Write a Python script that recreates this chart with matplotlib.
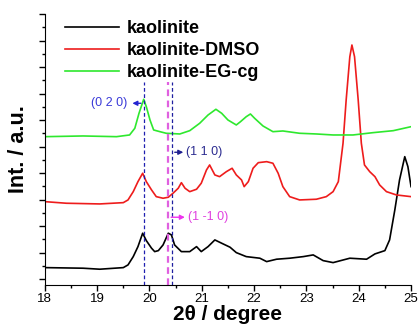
import numpy as np
import matplotlib
matplotlib.use("Agg")
import matplotlib.pyplot as plt

plt.rcParams['font.family'] = ['Liberation Sans', 'DejaVu Sans']

# 2theta / intensity (a.u.)
kao_x = [18.00, 18.73, 19.05, 19.50, 19.59, 19.69, 19.78, 19.87, 19.94, 20.04, 20.10, 20.17,
         20.26, 20.36, 20.42, 20.48, 20.61, 20.77, 20.90, 20.99, 21.12, 21.25, 21.38, 21.54,
         21.66, 21.85, 22.11, 22.24, 22.43, 22.68, 22.94, 23.13, 23.32, 23.51, 23.83, 24.15,
         24.31, 24.50, 24.59, 24.69, 24.78, 24.88, 24.94, 25.00]
kao_y = [17.3, 16.7, 15.7, 17.3, 20.0, 28.3, 38.3, 51.7, 44.3, 36.7, 33.3, 34.3,
         40.0, 51.7, 50.0, 40.0, 33.3, 33.3, 38.3, 33.3, 38.3, 45.0, 41.7, 37.7,
         32.3, 28.3, 26.7, 23.3, 25.7, 26.7, 28.3, 30.0, 24.3, 22.3, 26.7, 25.7,
         31.0, 34.3, 45.0, 75.0, 105.0, 128.3, 118.3, 98.3]

dmso_x = [18.00, 18.41, 19.05, 19.50, 19.59, 19.69, 19.78, 19.87, 19.94, 20.04, 20.13, 20.26,
          20.36, 20.45, 20.55, 20.61, 20.68, 20.77, 20.90, 20.99, 21.09, 21.15, 21.25, 21.34,
          21.47, 21.58, 21.66, 21.76, 21.81, 21.89, 21.98, 22.08, 22.24, 22.36, 22.46, 22.55,
          22.68, 22.87, 23.19, 23.38, 23.51, 23.61, 23.70, 23.76, 23.83, 23.87, 23.92, 23.99,
          24.05, 24.11, 24.21, 24.31, 24.40, 24.53, 24.72, 25.00]
dmso_y = [83.3, 81.7, 81.0, 82.3, 85.0, 93.3, 103.3, 111.7, 103.3, 95.0, 88.3, 86.7,
          87.7, 91.7, 96.7, 102.3, 96.7, 93.3, 95.7, 101.7, 115.0, 120.0, 110.0, 108.3,
          113.3, 116.7, 110.0, 105.0, 98.3, 103.3, 116.7, 122.3, 123.3, 121.7, 111.7, 98.3,
          88.3, 85.0, 85.7, 88.3, 93.3, 103.3, 141.7, 185.0, 228.3, 240.0, 228.3, 185.0,
          141.7, 120.0, 113.3, 108.3, 100.0, 93.3, 90.0, 88.3]

eg_x = [18.00, 18.73, 19.37, 19.62, 19.72, 19.80, 19.89, 19.94, 20.01, 20.08, 20.20, 20.32,
        20.58, 20.77, 20.96, 21.12, 21.27, 21.38, 21.50, 21.66, 21.74, 21.85, 21.93, 22.01,
        22.17, 22.36, 22.55, 22.87, 23.19, 23.51, 23.89, 24.27, 24.66, 25.00]
eg_y = [148.3, 149.0, 148.3, 150.0, 156.7, 171.7, 185.7, 178.3, 165.0, 155.0, 153.3, 151.7,
        151.0, 154.3, 161.7, 170.0, 175.7, 171.7, 165.0, 160.0, 163.3, 168.3, 171.0, 166.7,
        159.0, 153.3, 154.0, 151.7, 151.0, 150.0, 150.0, 152.3, 154.3, 158.3]

labels = ["kaolinite", "kaolinite-DMSO", "kaolinite-EG-cg"]
colors = ["black", "#ee1c1c", "#2ee82e"]

fig = plt.figure(figsize=(4.19, 3.34), dpi=100)
ax = fig.add_axes([0.107, 0.147, 0.874, 0.811])

ax.plot(kao_x, kao_y, color=colors[0], lw=1.2, label=labels[0])
ax.plot(dmso_x, dmso_y, color=colors[1], lw=1.2, label=labels[1])
ax.plot(eg_x, eg_y, color=colors[2], lw=1.2, label=labels[2])

# reflection markers
ax.plot([19.89, 19.89], [0, 203], ls=(0, (3, 2)), color="#1f1fb0", lw=0.9)
ax.plot([20.36, 20.36], [0, 203], ls=(0, (3, 2)), color="#e060e0", lw=1.6)
ax.plot([20.43, 20.43], [0, 203], ls=(0, (3, 2)), color="#1f1fa0", lw=0.9)

ax.annotate("", xy=(19.62, 181.7), xytext=(19.89, 181.7),
            arrowprops=dict(arrowstyle="-|>", color="#2424d0", lw=1, mutation_scale=7))
ax.text(19.57, 181.7, "(0 2 0)", color="#3a3ad8", fontsize=9, ha="right", va="center")

ax.annotate("", xy=(20.70, 132.7), xytext=(20.43, 132.7),
            arrowprops=dict(arrowstyle="-|>", color="#1f1f90", lw=1, mutation_scale=7))
ax.text(20.70, 132.7, "(1 1 0)", color="#2c2c90", fontsize=9, ha="left", va="center")

ax.annotate("", xy=(20.73, 67.7), xytext=(20.36, 67.7),
            arrowprops=dict(arrowstyle="-|>", color="#ee33ee", lw=1, mutation_scale=7))
ax.text(20.73, 67.7, "(1 -1 0)", color="#e040e0", fontsize=9, ha="left", va="center")

ax.set_xlim(18, 25)
ax.set_ylim(0, 271)
ax.set_xticks(np.arange(18, 26, 1))
ax.set_xticks(np.arange(18.5, 25, 1), minor=True)
ax.set_yticks(np.linspace(5.7, 271, 11))
ax.set_yticks(np.linspace(5.7 + 13.265, 271 - 13.265, 10), minor=True)
ax.set_yticklabels([])
ax.tick_params(axis="x", labelsize=9.5, length=4, width=1, direction="out", pad=2)
ax.tick_params(axis="x", which="minor", length=2.5, width=1)
ax.tick_params(axis="y", length=4, width=1, direction="out")
ax.tick_params(axis="y", which="minor", length=2.5, width=1)
ax.spines["top"].set_visible(False)
ax.spines["right"].set_visible(False)

ax.set_xlabel("2θ / degree", fontsize=15, fontweight="bold", labelpad=0)
ax.set_ylabel("Int. / a.u.", fontsize=15.5, fontweight="bold", labelpad=4)

leg = ax.legend(loc="upper left", bbox_to_anchor=(0.035, 1.005), frameon=False,
                prop=dict(size=13, weight="bold"), handlelength=3.0, handletextpad=0.4,
                labelspacing=0.28, borderaxespad=0)

fig.savefig("out.png", dpi=100)
